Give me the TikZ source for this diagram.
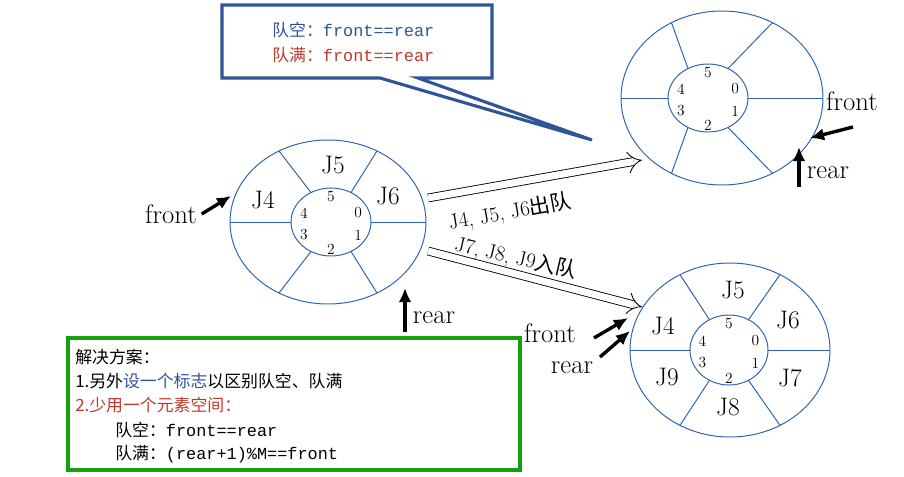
\documentclass[tikz,border=0pt]{standalone}
\usepackage{fontspec}
\newfontfamily\cjk{Noto Sans CJK SC}
\newfontfamily\mono{Liberation Mono}
\usetikzlibrary{arrows.meta}
\definecolor{ring}{HTML}{2E62B8}
\definecolor{dred}{HTML}{C0392B}
\definecolor{dblue}{HTML}{2F5597}
\definecolor{gbox}{HTML}{13A10E}
\begin{document}
\begin{tikzpicture}[x=0.025cm,y=-0.025cm,
  rl/.style={ring, line width=0.7pt},
  J/.style={font=\fontsize{18}{18}\selectfont},
  num/.style={font=\fontsize{11}{11}\selectfont},
  lab/.style={font=\fontsize{19}{19}\selectfont},
  bigarr/.style={-{Latex[length=10pt,width=9pt]}, line width=2.4pt},
  hollow/.style={double, double distance=5pt, line width=0.6pt, -{Implies[length=12pt,width=16pt]}},
  rot/.style={font=\fontsize{15}{15}\selectfont, inner sep=0},
  txt/.style={font=\cjk\fontsize{12}{14}\selectfont, anchor=west, inner sep=0pt}]
\useasboundingbox (0,0) rectangle (904,476);
\def\ring#1#2#3#4#5#6#7{%
  \draw[rl] (#1,#2) ellipse [x radius=#3, y radius=#4];
  \draw[rl] (#5,#2) ellipse [x radius=#6, y radius=#7];
  \foreach \a in {0,60,120,180,240,300}
    \draw[rl] ({#5+#6*cos(\a)},{#2-#7*sin(\a)}) -- ({#1+#3*cos(\a)},{#2-#4*sin(\a)});
  \node[num] at ({#5},{#2-#7+9}) {5};
  \node[num] at ({#5-#6*0.68},{#2-9}) {4};
  \node[num] at ({#5+#6*0.68},{#2-9}) {0};
  \node[num] at ({#5-#6*0.68},{#2+13}) {3};
  \node[num] at ({#5+#6*0.68},{#2+13}) {1};
  \node[num] at ({#5},{#2+#7-7}) {2};
}
\ring{328}{222}{98}{82}{331}{40}{34}
\ring{722}{98}{101}{87}{708}{40}{34}
\ring{730}{350}{100}{87}{729}{39}{35}
\node[J] (l5) at (333,165) {J5};
\node[J] (l4) at (263,200) {J4};
\node[J] (l6) at (388,196) {J6};
\node[J] (b5) at (733,290) {J5};
\node[J] (b4) at (663,326) {J4};
\node[J] (b6) at (788,320) {J6};
\node[J] (b9) at (667,377) {J9};
\node[J] (b7) at (790,378) {J7};
\node[J] (b8) at (728,407) {J8};
\node[lab] (f1) at (171,214) {front};
\coordinate (f1t) at (231,196);
\draw[bigarr] (f1.east) -- (f1t);
\node[lab] (r1) at (434,318) {rear};
\coordinate (r1s) at (405,332); \coordinate (r1t) at (405,288);
\draw[bigarr] (r1s) -- (r1t);
\node[lab] (f2) at (852,101) {front};
\coordinate (f2s) at (853,127); \coordinate (f2t) at (810,138);
\draw[bigarr] (f2s) -- (f2t);
\node[lab] (r2) at (828,173) {rear};
\coordinate (r2s) at (799,187); \coordinate (r2t) at (799,147);
\draw[bigarr] (r2s) -- (r2t);
\node[lab] (f3) at (550,333) {front};
\coordinate (f3s) at (594,338); \coordinate (f3t) at (628,318);
\draw[bigarr] (f3s) -- (f3t);
\node[lab] (r3) at (572,368) {rear};
\coordinate (r3s) at (600,357); \coordinate (r3t) at (630,331);
\draw[bigarr] (r3s) -- (r3t);
\coordinate (h1s) at (428,198); \coordinate (h1t) at (642,160);
\draw[hollow] (h1s) -- (h1t);
\node[rot, rotate=10] (t1) at (510,212) {J4, J5, J6{\cjk 出队}};
\coordinate (h2s) at (428,251); \coordinate (h2t) at (642,307);
\draw[hollow] (h2s) -- (h2t);
\node[rot, rotate=-13] (t2) at (516,258) {J7, J8, J9{\cjk 入队}};
\coordinate (tip) at (592,140);
\draw[dblue, line width=2.2pt, fill=white, line join=miter] (222,5) -- (492,5) -- (492,78) -- (418,78) -- (tip) -- (380,78) -- (222,78) -- cycle;
\node[txt, text=dblue] (q1) at (272,30) {队空：{\mono front==rear}};
\node[txt, text=dred] (q2) at (272,55) {队满：{\mono front==rear}};
\draw[gbox, line width=2.2pt] (68,338) rectangle (520,470);
\node[txt] (s1) at (75,357) {解决方案：};
\node[txt] (s2) at (75,381) {1.另外\textcolor{dblue}{设一个标志}以区别队空、队满};
\node[txt, text=dred] (s3) at (75,405) {2.少用一个元素空间：};
\node[txt] (s4) at (115,430) {队空：{\mono front==rear}};
\node[txt] (s5) at (115,454) {队满：{\mono (rear+1)\%M==front}};
\end{tikzpicture}
\end{document}
